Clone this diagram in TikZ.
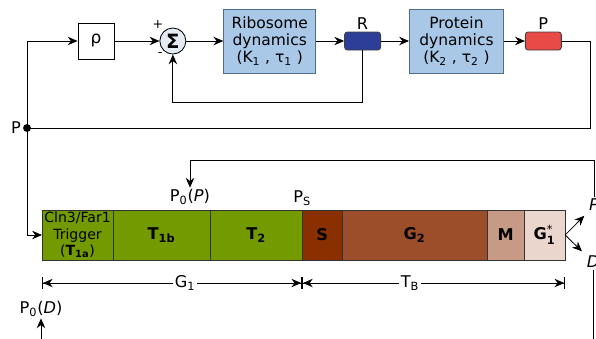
\documentclass[tikz,border=0pt]{standalone}
\usepackage{amsmath}
\usepackage{fontspec}
\setmainfont{DejaVu Sans}
\usetikzlibrary{arrows.meta, positioning, calc}

\definecolor{dynblue}{HTML}{A9C8E8}
\definecolor{dynedge}{HTML}{4F6E8E}
\definecolor{sumfill}{HTML}{E4EBF5}
\definecolor{ribocol}{HTML}{2C3E98}
\definecolor{protcol}{HTML}{E84A48}
\definecolor{gonecol}{HTML}{739B00}
\definecolor{sphcol}{HTML}{8A2F00}
\definecolor{gtwocol}{HTML}{9C4E2A}
\definecolor{mphcol}{HTML}{C69A84}
\definecolor{gstarcol}{HTML}{EBD6CD}

\begin{document}
\begin{tikzpicture}[x=0.025cm, y=-0.025cm,
    % Define node styles
    lbl/.style={font=\fontsize{11.5}{13}\selectfont, inner sep=1pt},
    dyn/.style={rectangle, draw=dynedge, fill=dynblue, minimum width=2.3cm, minimum height=1.6cm, align=center, inner sep=0pt, font=\fontsize{11}{12}\selectfont},
    gain/.style={rectangle, draw, minimum size=0.9cm, font=\fontsize{12}{14}\selectfont},
    adder/.style={circle, draw, fill=sumfill, minimum size=0.65cm, inner sep=0pt, font=\fontsize{14}{16}\selectfont\bfseries},
    sign/.style={font=\fontsize{9}{10}\selectfont, inner sep=0pt},
    species/.style={rectangle, draw=black!75, rounded corners=2pt, minimum width=0.9cm, minimum height=0.45cm},
    phase/.style={rectangle, draw=black!80, minimum height=1.25cm, inner sep=0pt, outer sep=0pt, align=center, font=\fontsize{11.5}{13}\selectfont\bfseries},
    % Define edge styles
    edge/.style={-{Stealth[length=7pt, width=6pt]}},
    span/.style={{Bar[width=8pt]Stealth[length=7pt, width=6pt]}-{Stealth[length=7pt, width=6pt]Bar[width=8pt]}},
    line width=0.6pt,
]
\useasboundingbox (0,0) rectangle (596,338);

% Control loop: gain, summing junction, dynamics blocks and species
\node[gain] (rho) at (96,41) {ρ};
\node[adder, right=1.125cm of rho, label={[sign, label distance=1pt]128:+}, label={[sign, label distance=1pt]228:-}] (sum) {Σ};
\node[dyn, right=0.925cm of sum] (ribo) {Ribosome\\dynamics\\(K\textsubscript{1} , τ\textsubscript{1} )};
\node[species, fill=ribocol, right=0.7cm of ribo, label={[lbl]above:R}] (R) {};
\node[dyn, right=0.7cm of R, minimum width=2.35cm] (prot) {Protein\\dynamics\\(K\textsubscript{2} , τ\textsubscript{2} )};
\node[species, fill=protcol, right=0.525cm of prot, label={[lbl]above:P}] (P) {};

% Branch point for the protein signal
\coordinate (pdot) at (27,128);
\node[lbl, left=3pt of pdot] (plbl) {P};

% Cell cycle phases
\node[phase, fill=gonecol, minimum width=1.775cm, anchor=west, font=\fontsize{10}{11.5}\selectfont] (t1a) at (42,235) {Cln3/Far1\\Trigger\\(\textbf{T\textsubscript{1a}})};
\node[phase, fill=gonecol, minimum width=2.425cm, right=0pt of t1a] (t1b) {T\textsubscript{1b}};
\node[phase, fill=gonecol, minimum width=2.3cm, right=0pt of t1b] (t2) {T\textsubscript{2}};
\node[phase, fill=sphcol, minimum width=1cm, right=0pt of t2] (s) {S};
\node[phase, fill=gtwocol, minimum width=3.625cm, right=0pt of s] (g2) {G\textsubscript{2}};
\node[phase, fill=mphcol, minimum width=0.925cm, right=0pt of g2] (m) {M};
\node[phase, fill=gstarcol, minimum width=1.025cm, right=0pt of m] (gst) {G$_{\textrm{1}}^{\textrm{\mdseries *}}$};

% Thresholds and daughter / parent outputs
\node[lbl, above=2pt of s.north west] (ps) {P\textsubscript{S}};
\node[lbl] (p0p) at (190,197) {P\textsubscript{0}(\textit{P})};
\node[lbl] (p0d) at (41,309) {P\textsubscript{0}(\textit{D})};
\node[lbl] (pout) at (594,205) {\textit{P}};
\node[lbl] (dout) at (593,262) {\textit{D}};
\coordinate (fbtop) at (0,160);
\coordinate (fbbot) at (0,360);
\coordinate (dimrow) at (0,283);

% Forward path
\draw[edge] (rho) -- (sum);
\draw[edge] (sum) -- (ribo);
\draw[edge] (ribo) -- (R);
\draw[edge] (R) -- (prot);
\draw[edge] (prot) -- (P);

% Feedback paths
\draw[edge] (R.south) -- ++(0,52) -| (sum.south);
\draw (P.east) -- ++(29,0) |- (pdot);
\draw[edge] (pdot) |- (rho.west);
\draw[edge] (pdot) |- (t1a.west);
\fill (pdot) circle (2.8pt);

% Division into parent and daughter
\draw[edge, shorten >=3pt] (gst.east) -- (pout.south west);
\draw[edge, shorten >=3pt] (gst.east) -- (dout.north west);
\draw[edge] (pout.north) -- (pout.north |- fbtop) -| (p0p.north);
\draw[edge] (dout.south) -- (dout.south |- fbbot) -| (p0d.south);

% Phase durations
\draw[span] (t1a.south west |- dimrow) -- node[pos=0.55, fill=white, lbl] {G\textsubscript{1}} (s.south west |- dimrow);
\draw[span] (s.south west |- dimrow) -- node[pos=0.41, fill=white, lbl] {T\textsubscript{B}} (gst.south east |- dimrow);

\end{tikzpicture}
\end{document}
